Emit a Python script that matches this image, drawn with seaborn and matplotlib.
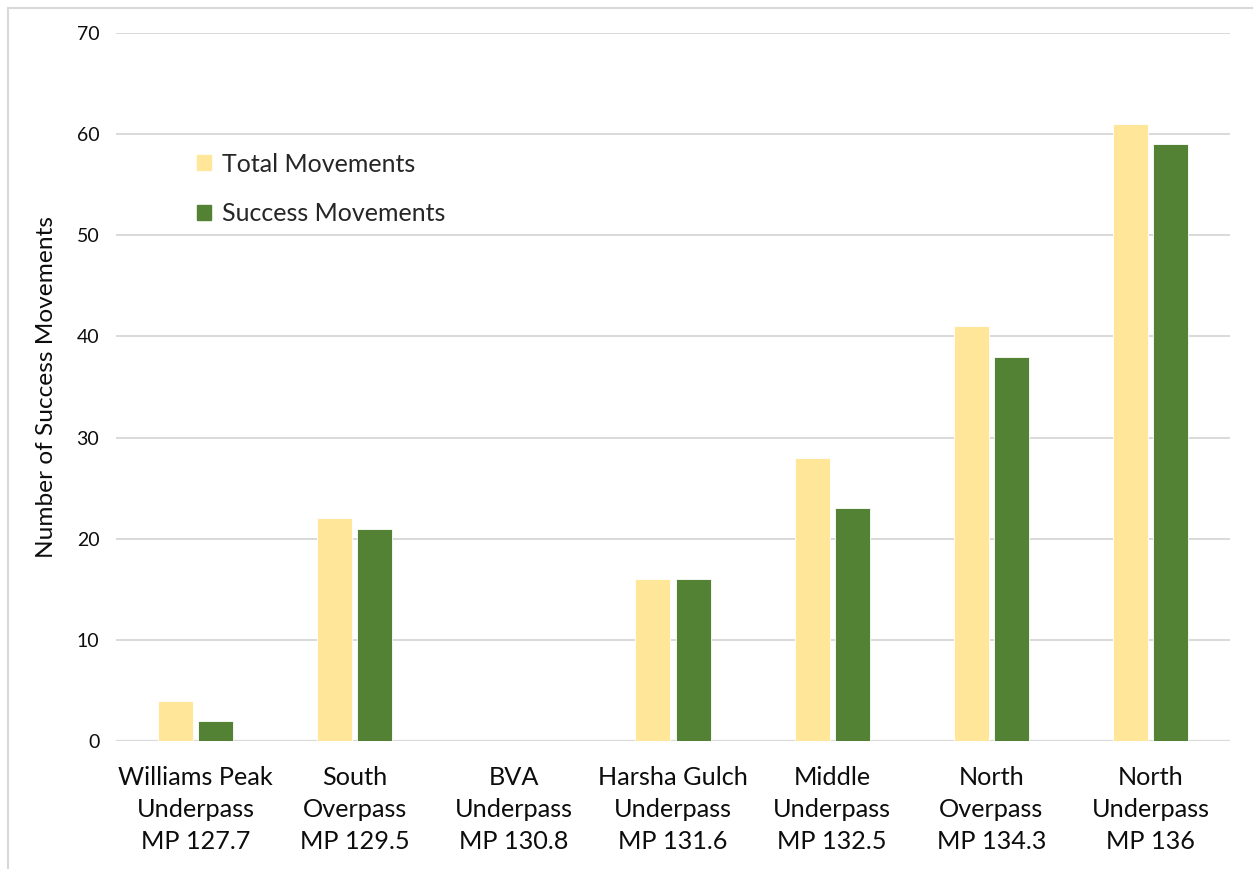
import matplotlib
matplotlib.use("Agg")
import matplotlib.pyplot as plt
import matplotlib.patches as mpatches
import seaborn as sns
import pandas as pd

# Crossing locations along the highway (three-line labels)
locations = [
    "Williams Peak\nUnderpass\nMP 127.7",
    "South\nOverpass\nMP 129.5",
    "BVA\nUnderpass\nMP 130.8",
    "Harsha Gulch\nUnderpass\nMP 131.6",
    "Middle\nUnderpass\nMP 132.5",
    "North\nOverpass\nMP 134.3",
    "North\nUnderpass\nMP 136",
]
total_movements = [4, 22, 0, 16, 28, 41, 61]
success_movements = [2, 21, 0, 16, 23, 38, 59]
series_names = ["Total Movements", "Success Movements"]
y_ticks = [0, 10, 20, 30, 40, 50, 60, 70]

df = pd.DataFrame({
    "location": locations * 2,
    "count": total_movements + success_movements,
    "series": [series_names[0]] * len(locations) + [series_names[1]] * len(locations),
})

sns.set_theme(style="white")
plt.rcParams["font.family"] = ["Lato", "DejaVu Sans"]

W, H = 1253, 869
fig = plt.figure(figsize=(W / 100, H / 100), dpi=100)
ax = fig.add_axes([116 / W, 1 - 741 / H, (1230 - 116) / W, (741 - 33) / H])

palette = {series_names[0]: "#FFE699", series_names[1]: "#548235"}
sns.barplot(data=df, x="location", y="count", hue="series", order=locations,
            hue_order=series_names, palette=palette, saturation=1,
            width=0.503, gap=0.125, edgecolor="white", linewidth=0.6,
            ax=ax, zorder=3, legend=False)

ax.set_xlim(-0.5, len(locations) - 0.5)
ax.set_ylim(0, 70)
ax.set_yticks(y_ticks)
ax.yaxis.grid(True, color="#D9D9D9", linewidth=1.4, zorder=0)
ax.set_axisbelow(True)
for s in ax.spines.values():
    s.set_visible(False)
ax.axhline(0, color="#D9D9D9", linewidth=1.6, zorder=2)

ax.tick_params(axis="y", length=0, pad=12, labelsize=14, labelcolor="#0d0d0d")
ax.tick_params(axis="x", length=0, pad=18, labelsize=18.2, labelcolor="#0d0d0d")
for lbl in ax.get_xticklabels():
    lbl.set_linespacing(1.47)
ax.set_xlabel("")
ax.set_ylabel("Number of Success Movements", fontsize=17.6, color="#0d0d0d", labelpad=14)

handles = [mpatches.Patch(color=palette[n], label=n) for n in series_names]
ax.legend(handles=handles, loc="upper left", bbox_to_anchor=(0.064, 0.845),
          frameon=False, fontsize=18, handlelength=0.55, handleheight=0.55,
          handletextpad=0.45, labelspacing=1.05, borderaxespad=0)

# light frame around the whole chart area
fig.patches.append(mpatches.Rectangle((8 / W, -0.05), 1.1, 1 - 8 / H + 0.05,
                                      transform=fig.transFigure, fill=False,
                                      edgecolor="#D9D9D9", linewidth=1.5))

fig.savefig("out.png", dpi=100, facecolor="white")
